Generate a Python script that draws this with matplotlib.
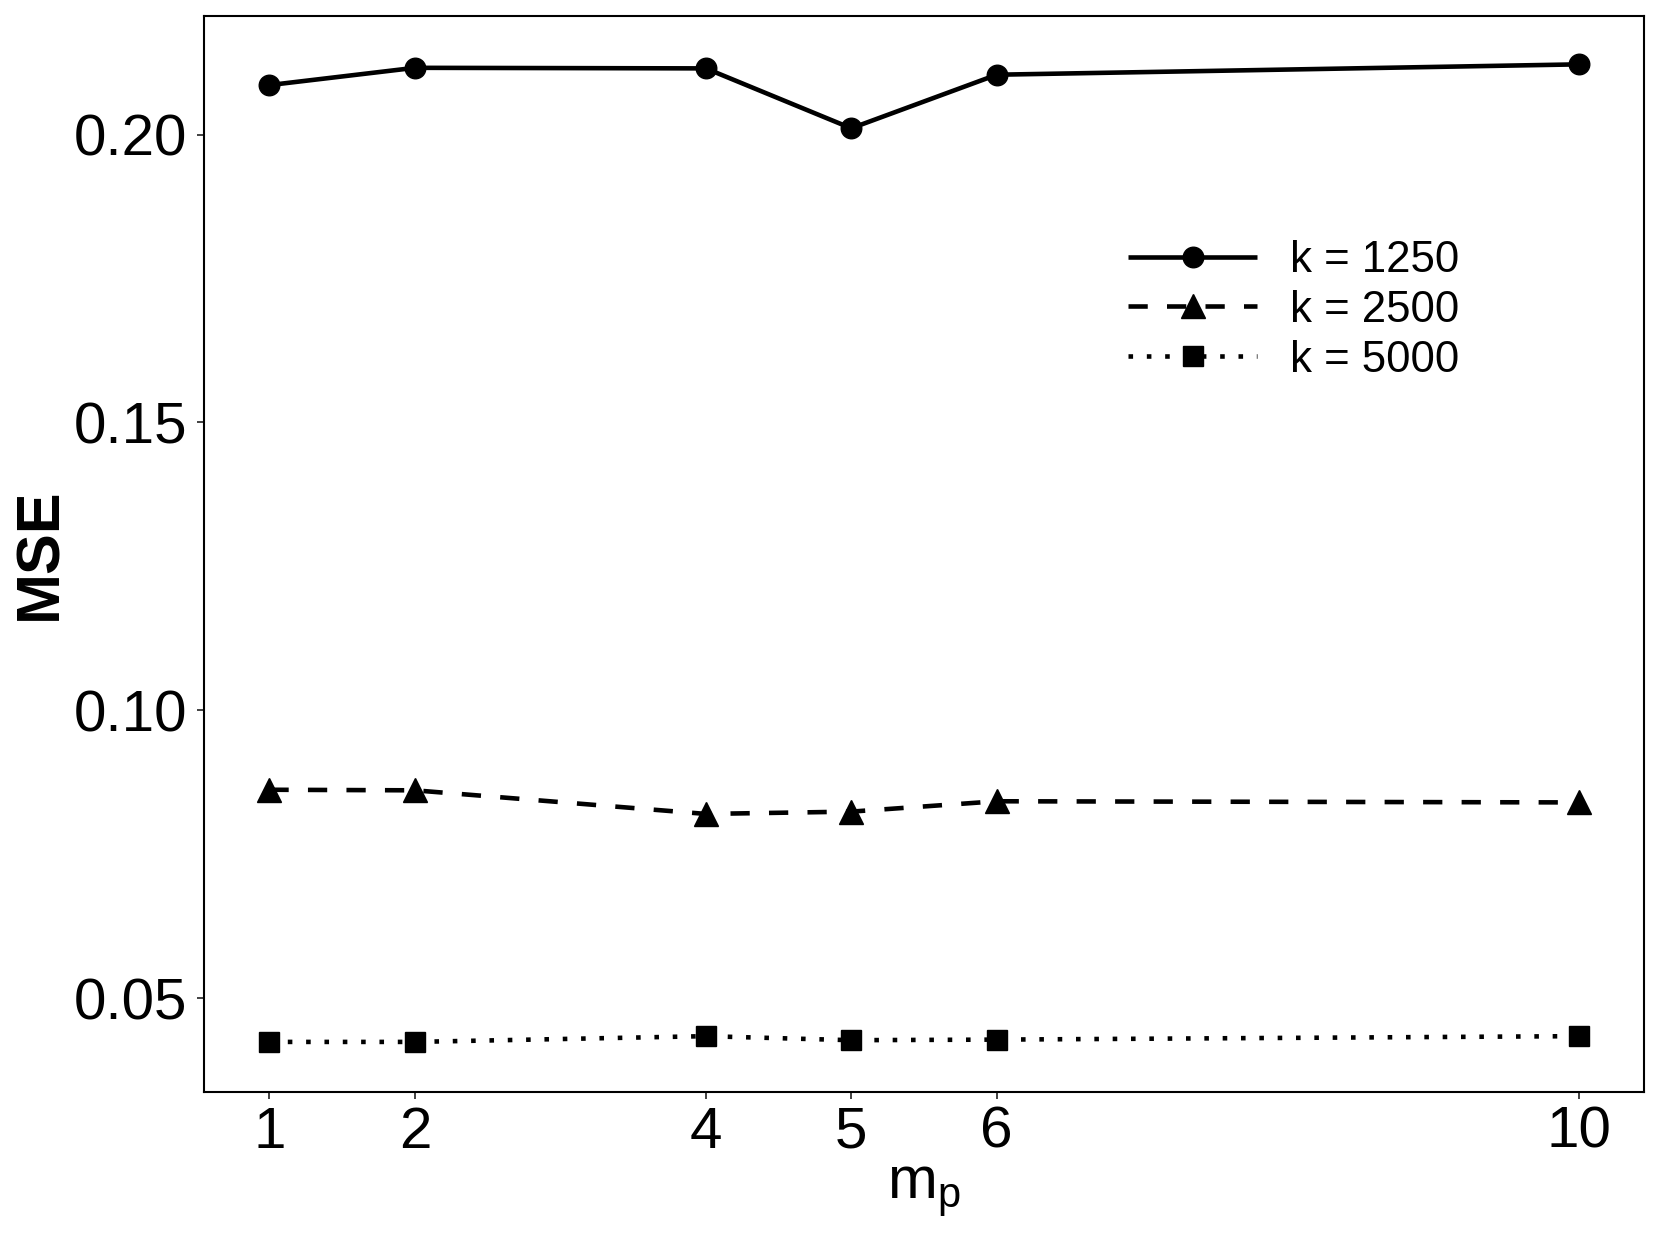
import matplotlib
matplotlib.use("Agg")
import matplotlib.pyplot as plt

plt.rcParams['font.family'] = ['Liberation Sans', 'DejaVu Sans']
plt.rcParams['mathtext.fontset'] = 'custom'
plt.rcParams['mathtext.rm'] = 'Liberation Sans'
plt.rcParams['mathtext.it'] = 'Liberation Sans'

mp = [1, 2, 4, 5, 6, 10]
mse_1250 = [0.2086, 0.2116, 0.2115, 0.2011, 0.2104, 0.2122]
mse_2500 = [0.0862, 0.0861, 0.0820, 0.0824, 0.0842, 0.0840]
mse_5000 = [0.0424, 0.0424, 0.0434, 0.0427, 0.0428, 0.0434]
labels = ["k = 1250", "k = 2500", "k = 5000"]

fig = plt.figure(figsize=(16.61, 12.46), dpi=100)
ax = fig.add_axes([204/1661, 1 - 1092/1246, (1644-204)/1661, (1092-16)/1246])

lw = 3.3
ax.plot(mp, mse_1250, color="black", lw=lw, marker="o", ms=14.8,
        solid_capstyle="butt", label=labels[0])
ax.plot(mp, mse_2500, color="black", lw=lw, marker="^", ms=17.5,
        dashes=(4.2, 4.2), label=labels[1])
ax.plot(mp, mse_5000, color="black", lw=lw, marker="s", ms=14.5,
        dashes=(1, 3), label=labels[2])

ax.set_xlim(0.55, 10.45)
ax.set_ylim(0.0337, 0.2206)
ax.set_xticks(mp)
ax.set_yticks([0.05, 0.10, 0.15, 0.20])
ax.set_yticklabels(["0.05", "0.10", "0.15", "0.20"])

for s in ax.spines.values():
    s.set_linewidth(1.5)
    s.set_color("black")

ax.tick_params(axis="both", labelsize=42, length=4.9, width=1.3,
               color="#333333", labelcolor="black")
ax.tick_params(axis="y", pad=7)
ax.tick_params(axis="x", pad=5)

ax.set_ylabel("MSE", fontsize=44, fontweight="bold", labelpad=3)
ax.set_xlabel(r"m$_\mathregular{p}$", fontsize=43, labelpad=3)

leg = ax.legend(loc="upper left", bbox_to_anchor=(1128/1661, 1 - 240/1246),
                bbox_transform=fig.transFigure, frameon=False, fontsize=31.5,
                handlelength=2.95, handletextpad=0.75, labelspacing=0.2,
                borderpad=0, borderaxespad=0)

fig.savefig("out.png", dpi=100)
